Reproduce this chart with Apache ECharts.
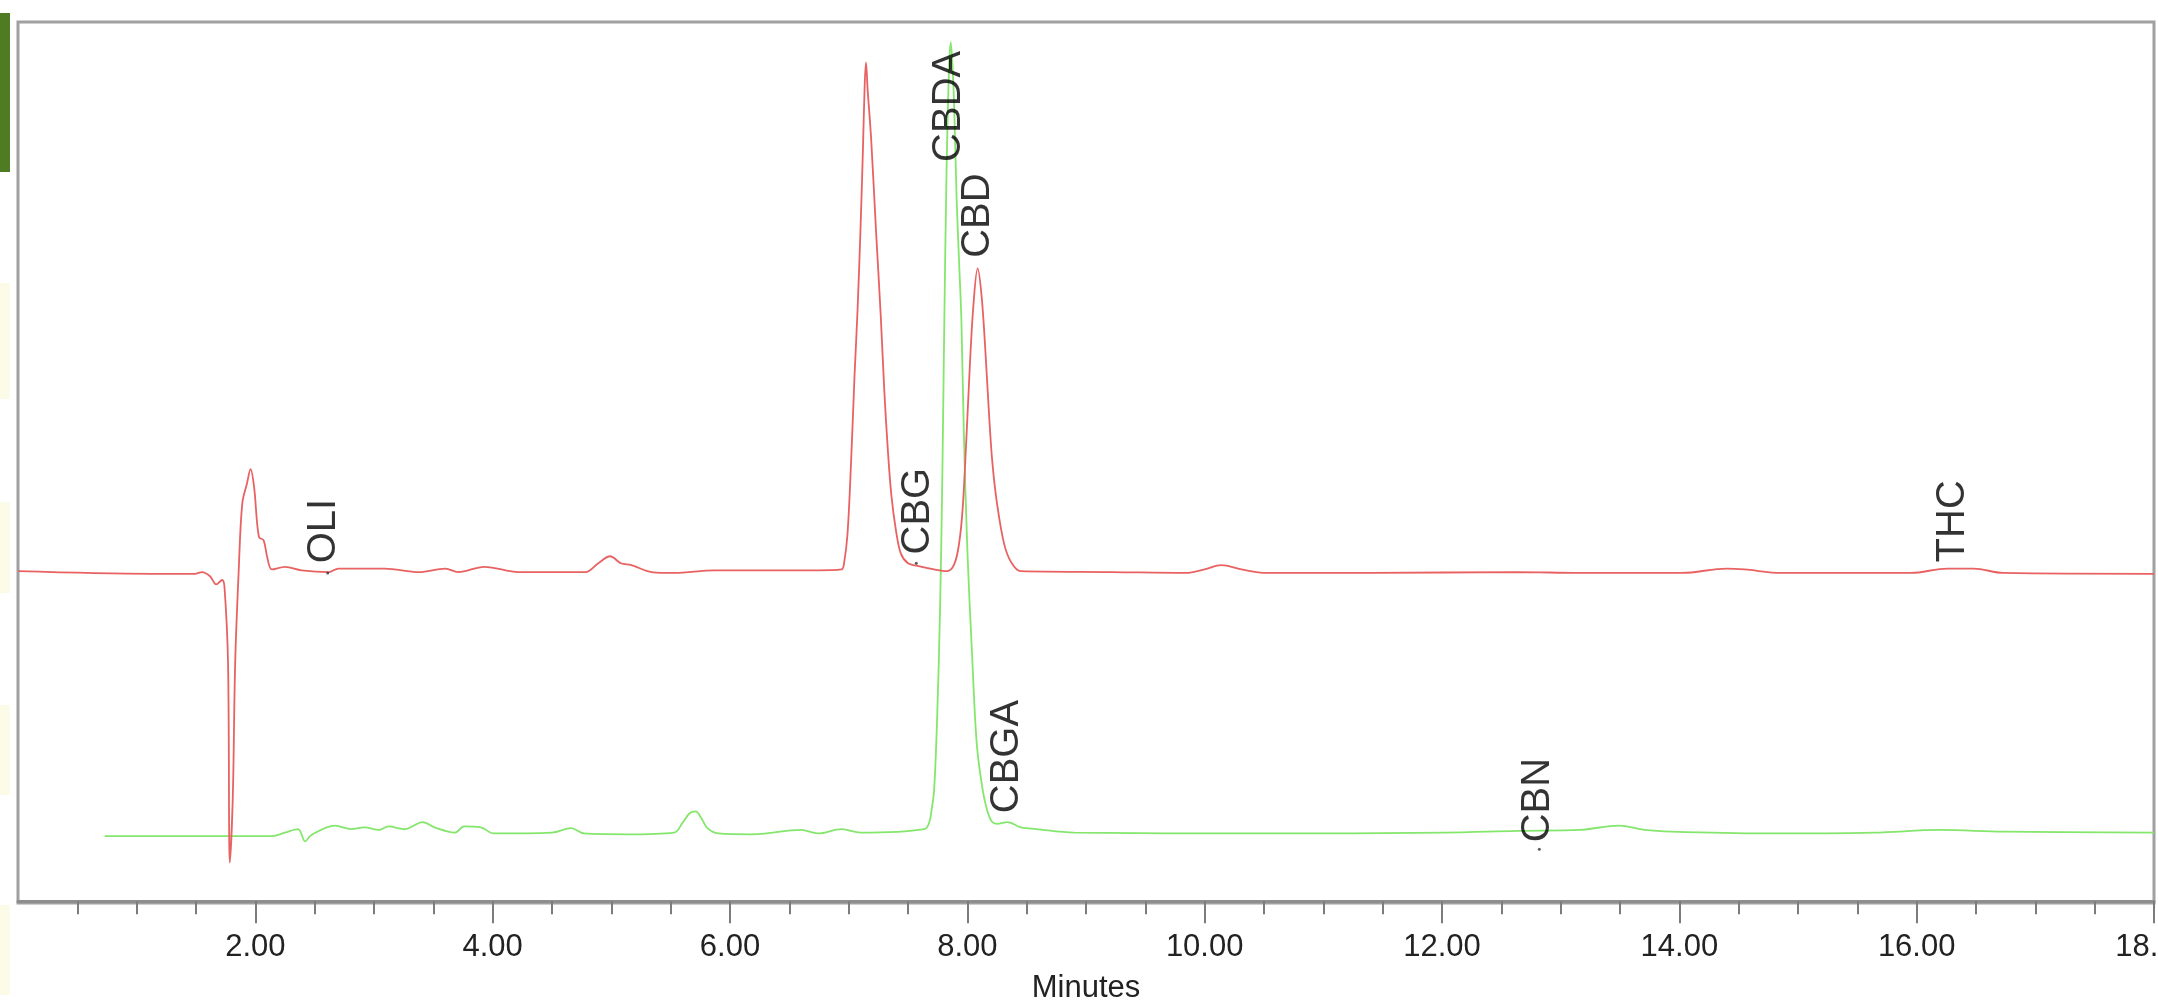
<!DOCTYPE html>
<html>
<head>
<meta charset="utf-8">
<title>Chromatogram</title>
<script src="https://cdn.jsdelivr.net/npm/echarts@6/dist/echarts.min.js"></script>
<style>
  html, body { margin: 0; padding: 0; background: #fff; }
  #chart { width: 2158px; height: 1008px; }
</style>
</head>
<body>
<div id="chart"></div>
<script>
// retention time (min), detector signal (arbitrary units, 0-100 of plot height)
const redSignal = [
  [0.00, 37.5], [1.13, 37.2], [1.49, 37.2], [1.55, 37.4], [1.62, 36.9], [1.67, 36.0],
  [1.72, 36.5], [1.74, 35.7], [1.77, 27.0], [1.785, 4.4], [1.81, 11.8], [1.83, 27.0],
  [1.86, 37.6], [1.89, 45.2], [1.93, 47.5], [1.96, 49.1], [1.99, 47.0], [2.03, 41.4],
  [2.07, 41.0], [2.10, 39.1], [2.14, 37.7], [2.25, 38.0], [2.39, 37.6], [2.62, 37.4],
  [2.70, 37.8], [3.09, 37.8], [3.38, 37.4], [3.60, 37.8], [3.71, 37.4], [3.93, 38.0],
  [4.22, 37.4], [4.78, 37.4], [4.89, 38.4], [4.99, 39.2], [5.08, 38.4], [5.17, 38.2],
  [5.34, 37.4], [5.53, 37.3], [5.87, 37.6], [6.18, 37.6], [6.74, 37.6], [6.94, 37.7],
  [6.96, 38.3], [6.99, 41.7], [7.02, 49.8], [7.05, 59.9], [7.075, 67.2], [7.10, 76.5],
  [7.12, 85.3], [7.135, 92.7], [7.146, 95.3], [7.16, 92.2], [7.19, 86.5], [7.23, 76.3],
  [7.27, 66.6], [7.30, 58.1], [7.33, 51.3], [7.36, 46.1], [7.40, 42.0], [7.44, 39.5],
  [7.50, 38.4], [7.58, 38.1], [7.72, 37.7], [7.83, 37.5], [7.89, 38.3], [7.93, 40.6],
  [7.96, 44.5], [7.99, 52.0], [8.02, 60.5], [8.05, 67.5], [8.087, 71.9], [8.12, 68.8],
  [8.15, 63.0], [8.18, 56.0], [8.21, 50.0], [8.25, 45.2], [8.31, 40.6], [8.37, 38.5],
  [8.45, 37.5], [9.22, 37.4], [9.84, 37.3], [10.00, 37.7], [10.14, 38.2], [10.31, 37.7],
  [10.52, 37.3], [11.40, 37.3], [12.64, 37.4], [13.16, 37.3], [14.02, 37.3], [14.40, 37.8],
  [14.55, 37.7], [14.86, 37.3], [15.95, 37.3], [16.26, 37.8], [16.48, 37.8], [16.73, 37.3],
  [18.00, 37.2]
];

const greenSignal = [
  [0.73, 7.4], [1.13, 7.4], [2.14, 7.4], [2.25, 7.8], [2.36, 8.2], [2.42, 6.8],
  [2.47, 7.5], [2.67, 8.6], [2.81, 8.2], [2.92, 8.4], [3.04, 8.1], [3.12, 8.5],
  [3.26, 8.2], [3.41, 9.0], [3.51, 8.4], [3.68, 7.8], [3.76, 8.5], [3.90, 8.4],
  [4.01, 7.7], [4.50, 7.8], [4.66, 8.3], [4.77, 7.7], [5.14, 7.6], [5.53, 7.8],
  [5.60, 8.9], [5.66, 10.0], [5.71, 10.2], [5.76, 9.4], [5.81, 8.3], [5.90, 7.7],
  [6.18, 7.6], [6.60, 8.1], [6.74, 7.7], [6.94, 8.2], [7.10, 7.8], [7.64, 8.2],
  [7.68, 9.0], [7.70, 10.5], [7.72, 12.6], [7.745, 20.6], [7.77, 33.1], [7.79, 49.0],
  [7.805, 64.9], [7.825, 83.1], [7.845, 94.4], [7.86, 97.6], [7.875, 95.0], [7.89, 89.9],
  [7.91, 79.7], [7.93, 72.8], [7.95, 66.0], [7.97, 53.5], [8.00, 40.0], [8.04, 28.0],
  [8.08, 17.8], [8.13, 12.6], [8.17, 10.2], [8.21, 9.0], [8.25, 8.8], [8.34, 9.0],
  [8.45, 8.4], [8.58, 8.2], [8.90, 7.8], [10.46, 7.7], [12.02, 7.8], [12.64, 8.0],
  [13.16, 8.1], [13.49, 8.6], [13.71, 8.1], [13.93, 7.9], [14.71, 7.7], [15.64, 7.8],
  [16.20, 8.1], [16.73, 7.9], [18.00, 7.8]
];

// peak names and where their labels start
const peakNames = ['OLI', 'CBG', 'CBDA', 'CBD', 'CBGA', 'CBN', 'THC'];
const peakTimes = [2.58, 7.58, 7.845, 8.09, 8.33, 12.81, 16.31];
const peakLabelLevels = [38.4, 39.4, 84.0, 73.1, 10.0, 6.7, 38.5];

// small integration marks under some labels
const markTimes = [2.61, 7.57, 12.82];
const markLevels = [37.3, 38.4, 5.9];

// major ticks (no tick at 0 in the original)
const majorTicks = [2, 4, 6, 8, 10, 12, 14, 16, 18];

const axisFont = "'Liberation Sans', Arial, sans-serif";

const chart = echarts.init(document.getElementById('chart'));

chart.setOption({
  backgroundColor: '#ffffff',
  animation: false,
  graphic: [
    { type: 'rect', shape: { x: 0, y: 13, width: 10, height: 159 }, style: { fill: '#4f7b23' } },
    { type: 'rect', shape: { x: 0, y: 283, width: 10, height: 116 }, style: { fill: '#fbfbe8' } },
    { type: 'rect', shape: { x: 0, y: 502, width: 10, height: 91 }, style: { fill: '#fbfbe8' } },
    { type: 'rect', shape: { x: 0, y: 705, width: 10, height: 90 }, style: { fill: '#fbfbe8' } },
    { type: 'rect', shape: { x: 0, y: 905, width: 10, height: 90 }, style: { fill: '#fbfbe8' } }
  ],
  grid: {
    left: 18, right: 4, top: 22, bottom: 105,
    outerBoundsMode: 'none',
    containLabel: false,
    show: true,
    borderColor: '#a0a0a0',
    borderWidth: 3,
    backgroundColor: '#ffffff'
  },
  xAxis: {
    type: 'value',
    min: 0,
    max: 18,
    interval: 2,
    name: 'Minutes',
    nameLocation: 'middle',
    nameGap: 70,
    nameTextStyle: { fontSize: 31, color: '#222', fontFamily: axisFont },
    axisLine: { lineStyle: { color: '#8e8e8e', width: 3 } },
    axisTick: { length: 22, customValues: majorTicks, lineStyle: { color: '#7c7c7c', width: 2 } },
    minorTick: { show: true, splitNumber: 4, length: 13, lineStyle: { color: '#7c7c7c', width: 2 } },
    splitLine: { show: false },
    axisLabel: {
      margin: 29,
      fontSize: 31,
      color: '#222',
      fontFamily: axisFont,
      showMinLabel: false,
      formatter: v => v.toFixed(2)
    }
  },
  yAxis: {
    type: 'value',
    min: -0.2,
    max: 99.9,
    show: false
  },
  series: [
    {
      name: 'red',
      type: 'line',
      data: redSignal,
      showSymbol: false,
      smooth: 0.35,
      lineStyle: { color: '#e86262', width: 1.8 },
      z: 3
    },
    {
      name: 'green',
      type: 'line',
      data: greenSignal,
      showSymbol: false,
      smooth: 0.35,
      lineStyle: { color: '#84e66c', width: 1.8 },
      z: 2
    },
    {
      name: 'marks',
      type: 'scatter',
      data: markTimes.map((t, i) => [t, markLevels[i]]),
      symbolSize: 3,
      itemStyle: { color: '#333' },
      silent: true,
      z: 4
    },
    {
      name: 'peaks',
      type: 'scatter',
      data: peakNames.map((n, i) => ({ name: n, value: [peakTimes[i], peakLabelLevels[i]] })),
      symbolSize: 0,
      silent: true,
      z: 5,
      label: {
        show: true,
        formatter: '{b}',
        position: 'inside',
        rotate: 90,
        align: 'left',
        verticalAlign: 'middle',
        fontSize: 40,
        color: '#000',
        fontFamily: 'Liberation Sans'
      }
    }
  ]
});
</script>
</body>
</html>
